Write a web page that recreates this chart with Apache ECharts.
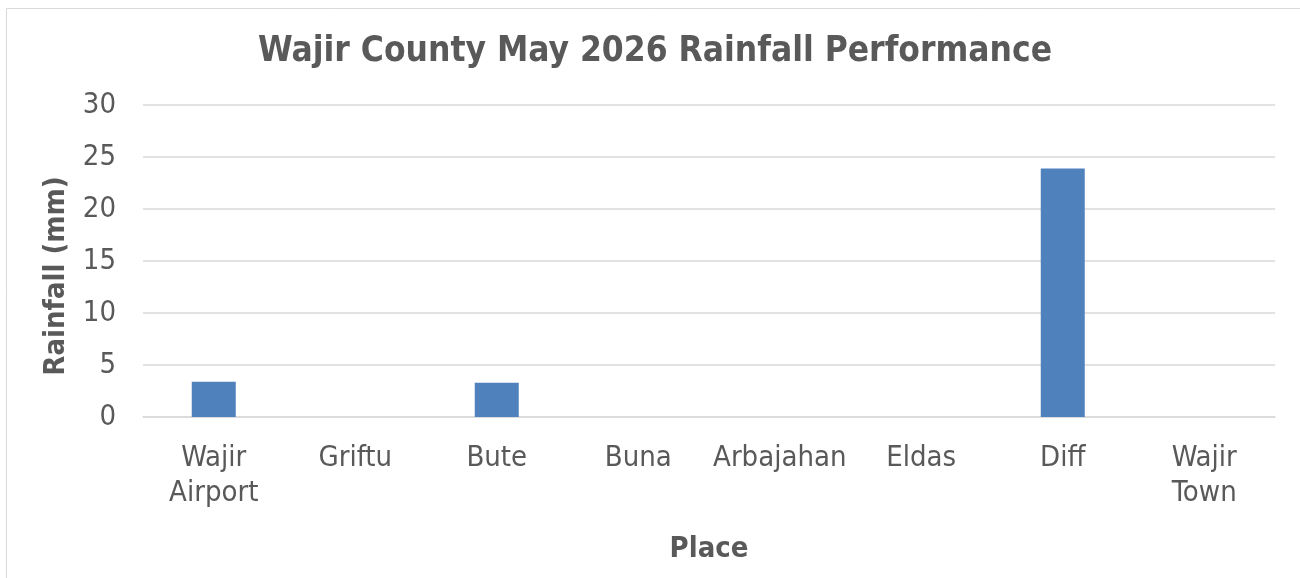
<!DOCTYPE html>
<html><head><meta charset="utf-8">
<script src="https://cdn.jsdelivr.net/npm/echarts@6/dist/echarts.min.js"></script>
<style>html,body{margin:0;padding:0;background:#fff}#c{width:1300px;height:578px}</style>
</head><body><div id="c"></div>
<script>
const categories = ['Wajir\nAirport', 'Griftu', 'Bute', 'Buna', 'Arbajahan', 'Eldas', 'Diff', 'Wajir\nTown'];
const rainfall = [3.4, 0, 3.3, 0, 0, 0, 23.9, 0];
const title = 'Wajir County May 2026 Rainfall Performance';
const xName = 'Place';
const yName = 'Rainfall (mm)';
const font = '"DejaVu Sans Condensed", "DejaVu Sans"';
const chart = echarts.init(document.getElementById('c'));
chart.setOption({
  animation: false,
  title: { text: title, left: 650, top: 29, textAlign: 'center',
    textStyle: { fontFamily: font, fontSize: 35, fontWeight: 'bold', color: '#595959' } },
  graphic: [{ type: 'rect', shape: { x: 6.5, y: 8.5, width: 1300, height: 600 }, silent: true,
    style: { fill: 'none', stroke: '#d9d9d9', lineWidth: 1 } }],
  grid: { left: 143, right: 25, top: 105, bottom: 161, containLabel: false },
  xAxis: { type: 'category', data: categories, name: xName, nameLocation: 'middle', nameGap: 118,
    nameTextStyle: { fontFamily: font, fontSize: 29, fontWeight: 'bold', color: '#595959' },
    axisLine: { lineStyle: { color: '#d9d9d9', width: 1.5 } }, axisTick: { show: false },
    axisLabel: { fontFamily: font, fontSize: 29, color: '#595959', margin: 24, lineHeight: 35, interval: 0 } },
  yAxis: { type: 'value', min: 0, max: 30, interval: 5, name: yName, nameLocation: 'middle', nameGap: 72,
    nameTextStyle: { fontFamily: font, fontSize: 29, fontWeight: 'bold', color: '#595959', padding: [0, 30, 0, 0] },
    axisLine: { show: false }, axisTick: { show: false },
    splitLine: { lineStyle: { color: '#d9d9d9', width: 1.5 } },
    axisLabel: { fontFamily: font, fontSize: 29, color: '#595959', margin: 27 } },
  series: [{ type: 'bar', data: rainfall, barWidth: 44,
    itemStyle: { color: '#4f81bd' } }]
});
</script></body></html>
